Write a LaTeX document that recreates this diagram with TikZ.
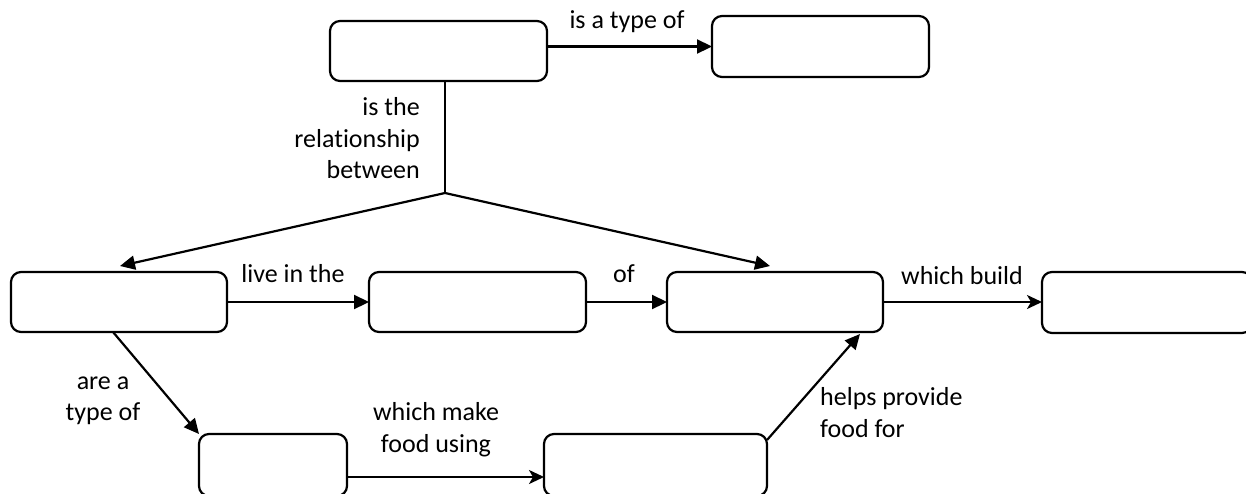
\documentclass[tikz,border=0pt]{standalone}
\usepackage{fontspec}
\setmainfont{Carlito}[Ligatures=NoCommon]
\usetikzlibrary{arrows.meta}
\begin{document}
\begin{tikzpicture}[x=1pt,y=-1pt,
  box/.style={draw, line width=2.2pt, rounded corners=10pt, inner sep=0pt, outer sep=0pt},
  conn/.style={line width=2.2pt},
  arr/.style={conn, -{Triangle[length=15pt,width=14pt]}},
  sarr/.style={conn, -{Stealth[length=15pt,width=14pt,inset=4pt]}},
  lbl/.style={font=\fontsize{26}{32}\selectfont, inner sep=0pt, anchor=base}]
\useasboundingbox (0,0) rectangle (1246,493);
\clip (0,0) rectangle (1246,493);
% boxes
\node[box, minimum width=217pt, minimum height=60pt] (A) at (438.5,51) {};
\node[box, minimum width=217pt, minimum height=61pt] (B) at (820.5,46.5) {};
\node[box, minimum width=216pt, minimum height=60pt] (C) at (119,302) {};
\node[box, minimum width=217pt, minimum height=60pt] (D) at (477.5,302) {};
\node[box, minimum width=216pt, minimum height=60pt] (E) at (775,302) {};
\node[box, minimum width=210pt, minimum height=61pt] (F) at (1147,302.5) {};
\node[box, minimum width=148pt, minimum height=62pt] (G) at (273,465) {};
\node[box, minimum width=223pt, minimum height=62pt] (H) at (655.5,465) {};
% helper coordinates
\coordinate (J) at (445,193);
\coordinate (tC) at (120,266);
\coordinate (tE) at (770,266);
\coordinate (sG) at (113,332);
\coordinate (yGH) at (0,477);
\coordinate (sH) at (767,440);
\coordinate (tH) at (860,334);
% connectors
\draw[arr] (A.east |- B.west) -- (B.west);
\draw[conn] (A.south -| J) -- (J);
\draw[arr] (J) -- (tC);
\draw[arr] (J) -- (tE);
\draw[arr] (C.east) -- (D.west |- C.east);
\draw[arr] (D.east) -- (E.west |- D.east);
\draw[sarr] (E.east) -- (F.west |- E.east);
\draw[arr] (sG) -- (G.north west);
\draw[sarr] (G.east |- yGH) -- (H.west |- yGH);
\draw[arr] (sH) -- (tH);
% labels
\node[lbl] (l1) at (627,28) {is a type of};
\node[lbl, anchor=base east] (l2a) at (420,115) {is the};
\node[lbl, anchor=base east] (l2b) at (420,147) {relationship};
\node[lbl, anchor=base east] (l2c) at (420,178) {between};
\node[lbl] (l3) at (293,282) {live in the};
\node[lbl] (l4) at (624,282) {of};
\node[lbl] (l5) at (962,284) {which build};
\node[lbl] (l6a) at (103,389) {are a};
\node[lbl] (l6b) at (103,420) {type of};
\node[lbl] (l7a) at (436,420) {which make};
\node[lbl] (l7b) at (436,452) {food using};
\node[lbl, anchor=base west] (l8a) at (820,405) {helps provide};
\node[lbl, anchor=base west] (l8b) at (820,437) {food for};
\end{tikzpicture}
\end{document}
